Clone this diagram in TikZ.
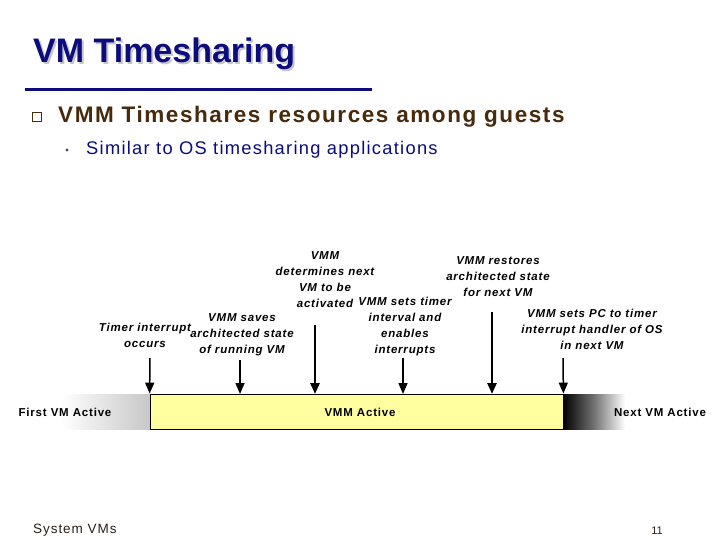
\documentclass[tikz,border=0pt]{standalone}
\usepackage{fontspec}
\setmainfont{Liberation Sans}
\newfontfamily\wide{Liberation Sans}[LetterSpace=7]
\usetikzlibrary{arrows.meta}
\definecolor{navy}{RGB}{12,12,125}
\definecolor{bbrown}{RGB}{72,42,12}
\definecolor{pyellow}{RGB}{255,255,160}
\definecolor{footc}{RGB}{45,32,22}
\tikzset{
  lbl/.style={font=\wide\bfseries\itshape\fontsize{11.5}{16}\selectfont, align=center, inner sep=0pt},
  phase/.style={font=\wide\bfseries\fontsize{11.5}{14}\selectfont, inner sep=0pt},
  evt/.style={-{Triangle[width=9pt,length=11pt]}, line width=1.5pt},
  evtbold/.style={evt, line width=2.5pt},
  titlefont/.style={font=\bfseries\fontsize{34}{40}\selectfont, inner sep=0pt, anchor=base west},
}
\begin{document}
\begin{tikzpicture}[x=1pt, y=-1pt]
\fill[white] (0,0) rectangle (720,540);
\useasboundingbox (0,0) rectangle (720,540);
% title
\node (tshadow) [titlefont, text=black!22] at (35,65) {VM Timesharing};
\node (title) [titlefont, text=navy] at (33,63) {VM Timesharing};
\draw[navy, line width=3pt] (25,90) -- (372,90);
% bullets
\node (sq) [draw=bbrown, line width=1.4pt, minimum size=8.5pt, inner sep=0pt] at (37,117) {};
\node (b1) [anchor=base west, inner sep=0pt, text=bbrown, font=\wide\bfseries\fontsize{22.5}{26}\selectfont] at (58,123) {VMM Timeshares resources among guests};
\fill[navy!50!gray] (67,150) circle (1.6pt);
\node (b2) [anchor=base west, inner sep=0pt, text=navy, font=\wide\fontsize{18.3}{22}\selectfont] at (86,155) {Similar to OS timesharing applications};
% fades and bar
\shade[left color=white, right color=black!22] (60,394) rectangle (150,429);
\shade[left color=black, right color=white, middle color=black!55] (563,394) rectangle (625,429);
\node (vmm) [draw, fill=pyellow, line width=0.8pt, minimum width=413pt, minimum height=35pt, inner sep=0pt] at (356.5,411.5) {};
\node (vmmtxt) [phase] at (360,412) {VMM Active};
\node (first) [phase] at (65,412) {First VM Active};
\node (next) [phase] at (660,412) {Next VM Active};
% labels
\node (l1) [lbl] at (145,335) {Timer interrupt\\occurs};
\node (l2) [lbl] at (242,335) {VMM saves\\architected state\\of running VM};
\node (l3) [lbl] at (325,280) {VMM\\determines next\\VM to be\\activated};
\node (l4) [lbl] at (405,327) {VMM sets timer\\interval and\\enables\\interrupts};
\node (l5) [lbl] at (498,276.5) {VMM restores\\architected state\\for next VM};
\node (l6) [lbl] at (592,329) {VMM sets PC to timer\\interrupt handler of OS\\in next VM};
% arrow ends
\coordinate (s1) at (150,358);
\coordinate (s2) at (240,360);
\coordinate (s3) at (315,325);
\coordinate (s4) at (403,358);
\coordinate (s5) at (492,312);
\coordinate (s6) at (563,358);
\coordinate (e2) at (240,394);
\coordinate (e3) at (315,394);
\coordinate (e4) at (403,394);
\coordinate (e5) at (492,394);
\draw[evt] (s1) -- (vmm.north west);
\draw[evt] (s2) -- (e2);
\draw[evtbold] (s3) -- (e3);
\draw[evt] (s4) -- (e4);
\draw[evtbold] (s5) -- (e5);
\draw[evt] (s6) -- (vmm.north east);
% footer
\node (foot) [anchor=base west, inner sep=0pt, text=footc, font=\wide\fontsize{13.5}{16}\selectfont] at (33,533) {System VMs};
\node (pg) [anchor=base, inner sep=0pt, text=footc, font=\fontsize{11}{13}\selectfont] at (657,534) {11};
\end{tikzpicture}
\end{document}
